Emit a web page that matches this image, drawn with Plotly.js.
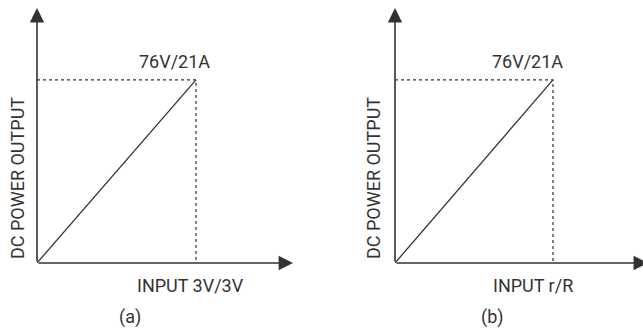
<!DOCTYPE html>
<html>
<head>
<meta charset="utf-8">
<script src="https://cdn.plot.ly/plotly-3.0.1.min.js"></script>
<style>html,body{margin:0;padding:0;background:#fff;}#chart{width:643px;height:329px;}</style>
</head>
<body>
<div id="chart"></div>
<script>
// Normalised input (x) and DC power output (y), one line per panel
const inputA = [0, 1];
const outputA = [0, 1];
const inputB = [0, 1];
const outputB = [0, 1];
const peakLabels = ["76V/21A", "76V/21A"];
const xLabels = ["INPUT 3V/3V", "INPUT r/R"];
const panelLabels = ["(a)", "(b)"];
const yLabel = "DC POWER OUTPUT";

const ink = "#333333";
const font = {family: "Roboto, 'Open Sans', sans-serif", size: 18, color: ink};
const W = 643, H = 329;

function panelTraces(xs, ys, xa, ya) {
  const px = xs[xs.length - 1], py = ys[ys.length - 1];
  return [
    {x: xs, y: ys, xaxis: xa, yaxis: ya, mode: "lines", line: {color: ink, width: 1.3}, hoverinfo: "skip"},
    {x: [0, px, px], y: [py, py, 0], xaxis: xa, yaxis: ya, mode: "lines", line: {color: ink, width: 1.2, dash: "3px,3px"}, hoverinfo: "skip"}
  ];
}

const data = [...panelTraces(inputA, outputA, "x", "y"), ...panelTraces(inputB, outputB, "x2", "y2")];

const axBase = {showgrid: false, zeroline: false, showticklabels: false, ticks: "", showline: false, fixedrange: true};
const yDom = [66 / H, 321 / H];
const layout = {
  width: W, height: H,
  margin: {l: 0, r: 0, t: 0, b: 0},
  paper_bgcolor: "#fff", plot_bgcolor: "rgba(0,0,0,0)",
  showlegend: false,
  font: font,
  xaxis: {...axBase, domain: [37 / W, 293 / W], range: [0, 1.61]},
  yaxis: {...axBase, domain: yDom, range: [0, 1.393]},
  xaxis2: {...axBase, domain: [395 / W, 1], range: [0, 1.57]},
  yaxis2: {...axBase, domain: yDom, range: [0, 1.393]},
  annotations: []
};

const panels = [
  {x: "x", y: "y", xs: inputA, ys: outputA, shiftPeak: -22, shiftIn: -6, lblX: 130 / W, ylX: 17 / W, tipX: 1},
  {x: "x2", y: "y2", xs: inputB, ys: outputB, shiftPeak: -25, shiftIn: -20, lblX: 492 / W, ylX: 373 / W, tipX: 1.02}
];

panels.forEach((p, i) => {
  const px = p.xs[p.xs.length - 1], py = p.ys[p.ys.length - 1];
  const A = layout.annotations;
  // axis arrows
  A.push({xref: p.x + " domain", yref: p.y + " domain", x: 0, y: 1, axref: p.x + " domain", ayref: p.y + " domain", ax: 0, ay: 0,
    showarrow: true, arrowhead: 2, arrowsize: 1.8, arrowwidth: 1.6, arrowcolor: ink, text: "", standoff: 0});
  A.push({xref: p.x + " domain", yref: p.y + " domain", x: p.tipX, y: 0, axref: p.x + " domain", ayref: p.y + " domain", ax: 0, ay: 0,
    showarrow: true, arrowhead: 2, arrowsize: 1.8, arrowwidth: 1.6, arrowcolor: ink, text: "", standoff: 0});
  // peak label
  A.push({xref: p.x, yref: p.y, x: px, y: py, text: peakLabels[i], showarrow: false, xanchor: "center", yanchor: "middle", xshift: p.shiftPeak, yshift: 18, font: font});
  // x label
  A.push({xref: p.x, yref: p.y, x: px, y: 0, text: xLabels[i], showarrow: false, xanchor: "center", yanchor: "middle", xshift: p.shiftIn, yshift: -22, font: font});
  // panel label
  A.push({xref: "paper", yref: "paper", x: p.lblX, y: (H - 317) / H, text: panelLabels[i], showarrow: false, xanchor: "center", yanchor: "middle", font: font});
  // y label
  A.push({xref: "paper", yref: "paper", x: p.ylX, y: (H - 178) / H, text: yLabel, textangle: -90, showarrow: false, xanchor: "center", yanchor: "middle", font: font});
});

Plotly.newPlot("chart", data, layout, {staticPlot: true, displayModeBar: false});
</script>
</body>
</html>
